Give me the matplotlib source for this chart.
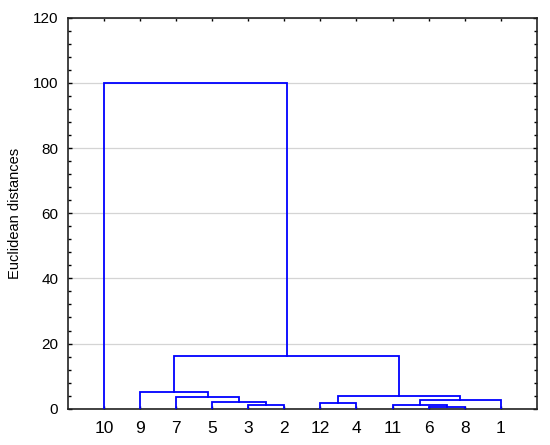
import matplotlib
matplotlib.use("Agg")
import matplotlib.pyplot as plt
from matplotlib.ticker import MultipleLocator

# leaves in display order
leaf_labels = ["10", "9", "7", "5", "3", "2", "12", "4", "11", "6", "8", "1"]

# merges: (child a, child b, height); ids 0-11 are leaves, 12+ are new clusters
merge_a = [4, 3, 2, 1, 9, 8, 17, 6, 19, 15, 0]
merge_b = [5, 12, 13, 14, 10, 16, 11, 7, 18, 20, 21]
merge_h = [1.1, 2.0, 3.7, 5.2, 0.6, 1.1, 2.6, 1.85, 4.0, 16.3, 100.0]

y_ticks = [0, 20, 40, 60, 80, 100, 120]

plt.rcParams["font.family"] = ["Liberation Sans", "DejaVu Sans"]

fig = plt.figure(figsize=(5.5, 4.45), dpi=100)
ax = fig.add_axes([0.1236, 0.0816, 0.8524, 0.8784])

line_color = "#0000ff"

# node x-position and height
node_x = {i: i + 1 for i in range(len(leaf_labels))}
node_h = {i: 0.0 for i in range(len(leaf_labels))}

for k, (a, b, h) in enumerate(zip(merge_a, merge_b, merge_h)):
    xa, xb = node_x[a], node_x[b]
    ax.plot([xa, xa, xb, xb], [node_h[a], h, h, node_h[b]],
            color=line_color, lw=1.3, solid_joinstyle="miter", zorder=3)
    nid = len(leaf_labels) + k
    node_x[nid] = (xa + xb) / 2
    node_h[nid] = h

ax.set_xlim(0, len(leaf_labels) + 1)
ax.set_ylim(0, 120)
ax.set_xticks(range(1, len(leaf_labels) + 1))
ax.set_xticklabels(leaf_labels, fontsize=12.5)
ax.set_yticks(y_ticks)
ax.yaxis.set_minor_locator(MultipleLocator(4))
ax.tick_params(axis="y", labelsize=11, direction="in", length=3, width=1,
               right=True, pad=7)
ax.tick_params(axis="y", which="minor", direction="in", length=2, width=1, right=True)
ax.tick_params(axis="x", direction="in", length=2, width=1, top=True, pad=9)

ax.grid(axis="y", color="#d4d4d4", lw=0.9, zorder=0)
ax.set_axisbelow(True)

for s in ax.spines.values():
    s.set_linewidth(1.2)
    s.set_color("#222222")

ax.set_ylabel("Euclidean distances", fontsize=10.5, labelpad=8)

fig.savefig("out.png", dpi=100)
plt.close(fig)
